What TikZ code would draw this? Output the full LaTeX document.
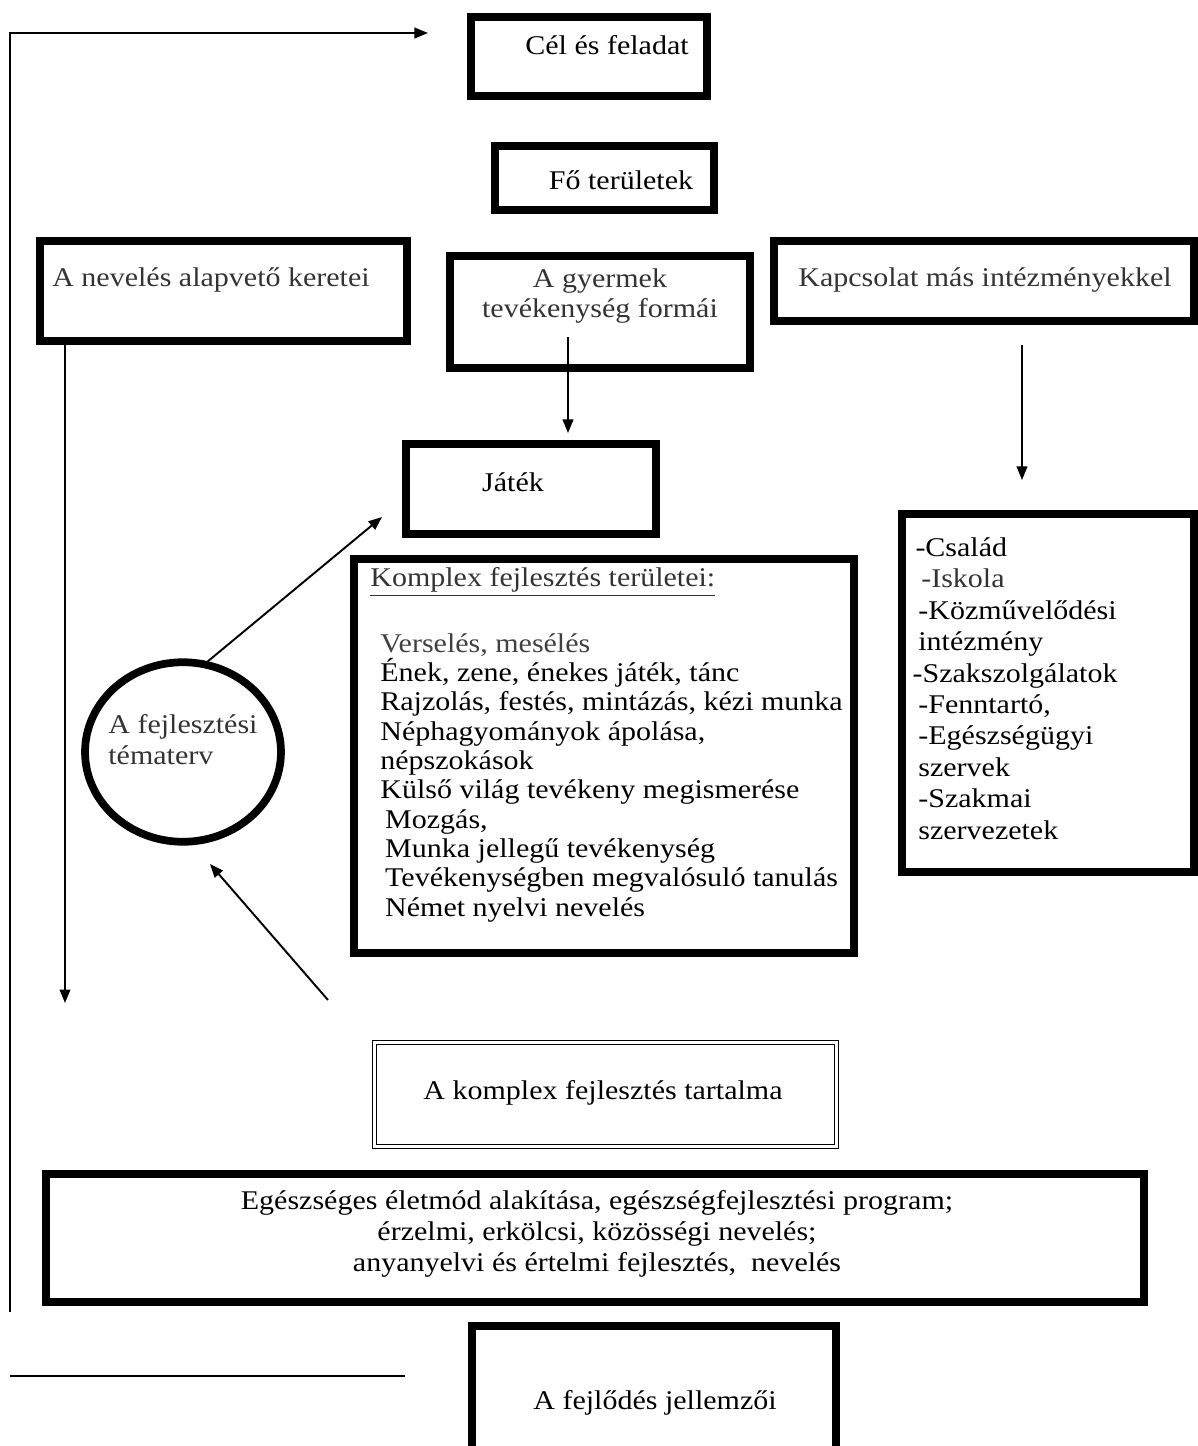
\documentclass[tikz,border=0pt]{standalone}
\usepackage{fontspec}
\setmainfont{Liberation Serif}[FakeStretch=1.11]
\usetikzlibrary{arrows.meta,fit,shapes.geometric}
\begin{document}
\begin{tikzpicture}[x=0.518pt,y=-0.518pt,
  thickbox/.style={draw,line width=4pt,inner sep=0pt,rectangle},
  thinbox/.style={draw,line width=0.5pt,inner sep=0pt,rectangle},
  txt/.style={inner sep=0pt,font=\fontsize{14}{16}\selectfont},
  dtxt/.style={txt,text=black!80},
  conn/.style={line width=1pt},
  arr/.style={conn,-{Triangle[length=7pt,width=5.5pt]}}]
\useasboundingbox (0,0) rectangle (1198,1446);
\clip (0,0) rectangle (1198,1446);

% boxes
\node[thickbox, fit={(471,17)(707,96)}] (cel) {};
\node[thickbox, fit={(495,146)(714,210)}] (fo) {};
\node[thickbox, fit={(40,241)(407,341)}] (nev) {};
\node[thickbox, fit={(450,256)(750,368)}] (gyer) {};
\node[thickbox, fit={(774,241)(1194,321)}] (kap) {};
\node[thickbox, fit={(406,444)(656,534)}] (jat) {};
\node[thickbox, fit={(354,559)(854,953)}] (komp) {};
\node[thickbox, fit={(902,514)(1194,872)}] (lst) {};
\node[thickbox, fit={(46,1174)(1144,1302)}] (big) {};
\node[thickbox, fit={(472,1326)(836,1480)}] (fej) {};
\node[thinbox, fit={(372,1040)(838,1148)}] (dbl) {};
\node[thinbox, fit={(376,1044)(834,1144)}] (dbli) {};
\node[ellipse, draw, line width=4pt, inner sep=0pt,
      minimum width=101.5pt, minimum height=93pt] (ell) at (183,752) {};

% texts
\node[txt] (celt) at (607,45) {Cél és feladat};
\node[txt] (fot) at (621,180) {Fő területek};
\node[dtxt] (nevt) at (211,280) {A nevelés alapvető keretei};
\node[dtxt, align=center] (gyert) at (600,296) {A gyermek\\tevékenység formái};
\node[dtxt] (kapt) at (985,280) {Kapcsolat más intézményekkel};
\node[txt] (jatt) at (513,482) {Játék};
\node[dtxt, anchor=west] (kompt) at (370,582) {\underline{Komplex fejlesztés területei:}};
\node[txt, align=left, anchor=north west,
      font=\fontsize{14}{15.2}\selectfont] (komplist) at (380,633) {%
\textcolor{black!75}{Verselés, mesélés}\\
Ének, zene, énekes játék, tánc\\
Rajzolás, festés, mintázás, kézi munka\\
Néphagyományok ápolása,\\
népszokások\\
Külső világ tevékeny megismerése\\
\hspace*{2.5pt}Mozgás,\\
\hspace*{2.5pt}Munka jellegű tevékenység\\
\hspace*{2.5pt}Tevékenységben megvalósuló tanulás\\
\hspace*{2.5pt}Német nyelvi nevelés};
\node[txt, align=left, anchor=north west,
      font=\fontsize{14}{16.3}\selectfont] (lstt) at (918,537) {%
\hspace*{-1.5pt}-Család\\
\hspace*{1.5pt}\textcolor{black!80}{-Iskola}\\
-Közművelődési\\
intézmény\\
\hspace*{-3pt}-Szakszolgálatok\\
-Fenntartó,\\
-Egészségügyi\\
szervek\\
-Szakmai\\
szervezetek};
\node[dtxt, align=left, anchor=west] (ellt) at (108,740) {A fejlesztési\\tématerv};
\node[txt] (dblt) at (603,1093) {A komplex fejlesztés tartalma};
\node[txt, align=center] (bigt) at (597,1234) {Egészséges életmód alakítása, egészségfejlesztési program;\\érzelmi, erkölcsi, közösségi nevelés;\\anyanyelvi és értelmi fejlesztés, \ nevelés};
\node[txt] (fejt) at (655,1403) {A fejlődés jellemzői};

% connectors
\coordinate (lb) at (10,1312);
\coordinate (ct) at (428,33);
\draw[arr] (lb) |- (ct);

\coordinate (nd) at (65,1003);
\draw[arr] (nd |- nev.south) -- (nd);

\coordinate (g1) at (568,337);
\coordinate (g2) at (568,433);
\draw[arr] (g1) -- (g2);

\coordinate (k1) at (1022,345);
\coordinate (k2) at (1022,480);
\draw[arr] (k1) -- (k2);

\coordinate (e1) at (207,662);
\coordinate (e2) at (382,517);
\draw[arr] (e1) -- (e2);

\coordinate (f1) at (328,1000);
\coordinate (f2) at (210,864);
\draw[arr] (f1) -- (f2);

\coordinate (h1) at (10,1376);
\coordinate (h2) at (405,1376);
\draw[conn] (h1) -- (h2);
\end{tikzpicture}
\end{document}
